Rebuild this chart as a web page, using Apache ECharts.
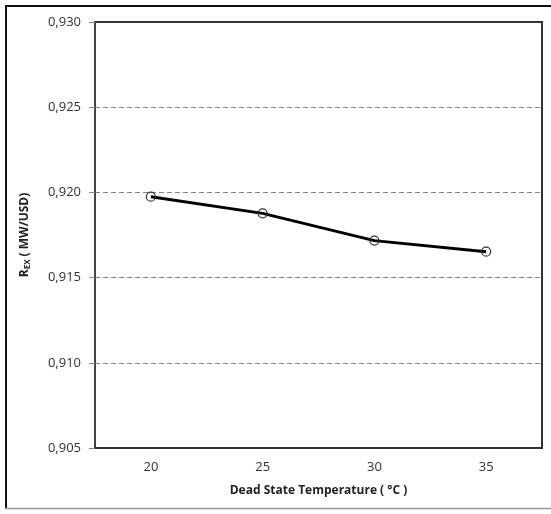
<!DOCTYPE html>
<html>
<head>
<meta charset="utf-8">
<script src="https://cdn.jsdelivr.net/npm/echarts@6/dist/echarts.min.js"></script>
<style>html,body{margin:0;padding:0;background:#fff}#c{width:551px;height:514px}</style>
</head>
<body>
<div id="c"></div>
<script>
const categories = ['20', '25', '30', '35'];
const values = [0.91975, 0.91877, 0.91717, 0.91652];
const yTicks = [0.905, 0.910, 0.915, 0.920, 0.925, 0.930];

const chart = echarts.init(document.getElementById('c'), null, {renderer: 'canvas'});
const font = '"Open Sans", "Liberation Sans", sans-serif';
chart.setOption({
  animation: false,
  backgroundColor: '#fff',
  graphic: [
    {type: 'line', shape: {x1: 6, y1: 6, x2: 551, y2: 6}, style: {stroke: '#111', lineWidth: 2}},
    {type: 'line', shape: {x1: 6, y1: 5, x2: 6, y2: 509}, style: {stroke: '#111', lineWidth: 2}},
    {type: 'line', shape: {x1: 5, y1: 508.5, x2: 551, y2: 508.5}, style: {stroke: '#999', lineWidth: 1.5}}
  ],
  grid: {left: 95, right: 9, top: 22, bottom: 66, show: true, borderColor: '#333', borderWidth: 2, containLabel: false},
  xAxis: {
    type: 'category',
    data: categories,
    boundaryGap: true,
    name: 'Dead State Temperature ( °C )',
    nameLocation: 'middle',
    nameGap: 37,
    nameTextStyle: {fontFamily: font, fontSize: 12, fontWeight: 'bold', color: '#222'},
    axisLine: {show: true, lineStyle: {color: '#333', width: 2}},
    axisTick: {show: false},
    axisLabel: {fontFamily: font, fontSize: 13, color: '#333', margin: 13},
    splitLine: {show: false}
  },
  yAxis: {
    type: 'value',
    min: yTicks[0],
    max: yTicks[yTicks.length - 1],
    interval: 0.005,
    name: '{m|R}{s|EX}{m| ( MW/USD)}',
    nameLocation: 'middle',
    nameGap: 63,
    nameTextStyle: {
      rich: {
        m: {fontFamily: font, fontSize: 12, fontWeight: 'bold', color: '#222'},
        s: {fontFamily: font, fontSize: 8, fontWeight: 'bold', color: '#222', verticalAlign: 'bottom', padding: [6, 0, 0, 0]}
      }
    },
    axisLine: {show: true, lineStyle: {color: '#444', width: 2}},
    axisTick: {show: true, length: 6, lineStyle: {color: '#888', width: 1}},
    axisLabel: {fontFamily: font, fontSize: 13, color: '#333', margin: 14,
      formatter: v => v.toFixed(3).replace('.', ',')},
    splitLine: {show: true, showMinLine: false, showMaxLine: false, lineStyle: {color: '#888', type: [5, 3], width: 1}}
  },
  series: [{
    type: 'line',
    data: values,
    symbol: 'circle',
    symbolSize: 9,
    lineStyle: {color: '#000', width: 3},
    itemStyle: {color: 'rgba(255,255,255,0)', borderColor: '#333', borderWidth: 1.2},
    z: 5
  }]
});
</script>
</body>
</html>
